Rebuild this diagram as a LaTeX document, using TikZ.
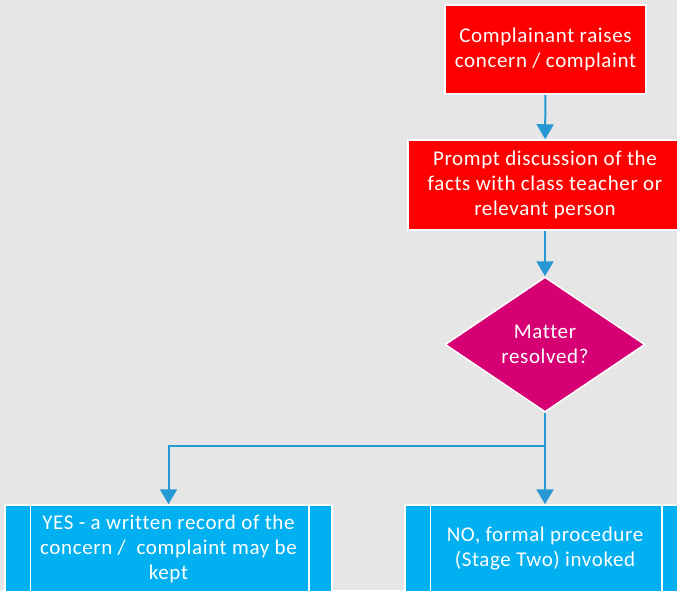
\documentclass[tikz,border=0pt]{standalone}
\usepackage{fontspec}
\setmainfont{Carlito}[LetterSpace=3,Ligatures=NoCommon]
\usetikzlibrary{shapes.geometric,arrows.meta}

\definecolor{bgGrey}{RGB}{230,230,230}
\definecolor{boxRed}{RGB}{255,0,0}
\definecolor{boxMagenta}{RGB}{214,0,116}
\definecolor{boxBlue}{RGB}{0,176,240}
\definecolor{lineBlue}{RGB}{38,152,212}

\begin{document}
\begin{tikzpicture}[x=1pt,y=-1pt,
  stepbox/.style={rectangle, draw=white, line width=1.5pt, text=white, align=center, font=\fontsize{21}{25}\selectfont, inner sep=0pt},
  redbox/.style={stepbox, fill=boxRed},
  bluebox/.style={stepbox, fill=boxBlue},
  decision/.style={diamond, draw=white, line width=1.5pt, fill=boxMagenta, text=white, align=center, font=\fontsize{21}{25}\selectfont, inner sep=0pt, shape aspect=1.48},
  flow/.style={draw=lineBlue, line width=2pt, -{Triangle[width=17pt,length=15pt]}}]
\useasboundingbox (0,0) rectangle (677,590);
\fill[bgGrey] (0,0) rectangle (677,590);
\clip (0,0) rectangle (677,590);
\node[redbox, minimum width=201pt, minimum height=89pt] (raise) at (545.5,49.5) {Complainant raises\\concern / complaint};
\node[redbox, minimum width=274pt, minimum height=90pt] (discuss) at (545,185) {Prompt discussion of the\\facts with class teacher or\\relevant person};
\node[decision, minimum width=200pt, minimum height=135pt] (resolved) at (545,344.5) {Matter\\resolved?};
\node[bluebox, minimum width=327pt, minimum height=88pt] (yes) at (168.5,549) {YES - a written record of the\\concern /\ \ complaint may be\\kept};
\node[bluebox, minimum width=280pt, minimum height=88pt] (no) at (545,549) {NO, formal procedure\\(Stage Two) invoked};
\draw[white, line width=1.5pt] ([xshift=26pt]yes.north west) -- ([xshift=26pt]yes.south west);
\draw[white, line width=1.5pt] ([xshift=-24pt]yes.north east) -- ([xshift=-24pt]yes.south east);
\draw[white, line width=1.5pt] ([xshift=26pt]no.north west) -- ([xshift=26pt]no.south west);
\draw[white, line width=1.5pt] ([xshift=-24pt]no.north east) -- ([xshift=-24pt]no.south east);
\coordinate (split) at (545,446);
\draw[flow] (raise) -- (discuss);
\draw[flow] (discuss) -- (resolved);
\draw[draw=lineBlue, line width=2pt] (resolved.south) -- (split);
\draw[flow] (split) -| (yes.north);
\draw[flow] (split) -- (no.north);
\end{tikzpicture}
\end{document}
